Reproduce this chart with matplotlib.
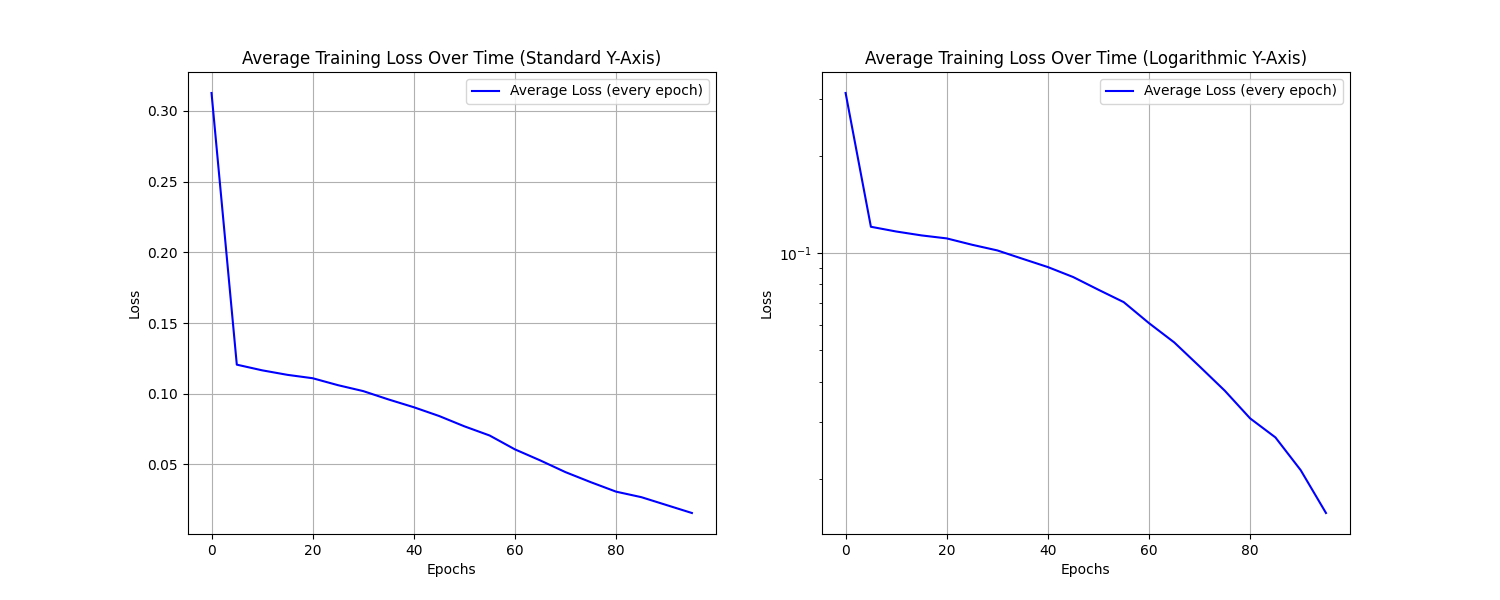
import matplotlib
matplotlib.use("Agg")
import matplotlib.pyplot as plt

epochs = list(range(0, 100, 5))
avg_loss = [0.3127, 0.1206, 0.1166, 0.1134, 0.1110, 0.1061, 0.1019, 0.0960,
            0.0905, 0.0843, 0.0770, 0.0705, 0.0607, 0.0529, 0.0446, 0.0375,
            0.0308, 0.0269, 0.0213, 0.0157]

fig, (ax1, ax2) = plt.subplots(1, 2, figsize=(15, 6), dpi=100)

ax1.plot(epochs, avg_loss, color='blue', label='Average Loss (every epoch)')
ax1.set_title('Average Training Loss Over Time (Standard Y-Axis)')
ax1.set_xlabel('Epochs')
ax1.set_ylabel('Loss')
ax1.legend()
ax1.grid(True)

ax2.plot(epochs, avg_loss, color='blue', label='Average Loss (every epoch)')
ax2.set_yscale('log')
ax2.set_title('Average Training Loss Over Time (Logarithmic Y-Axis)')
ax2.set_xlabel('Epochs')
ax2.set_ylabel('Loss')
ax2.legend()
ax2.grid(True)

fig.savefig('out.png')
